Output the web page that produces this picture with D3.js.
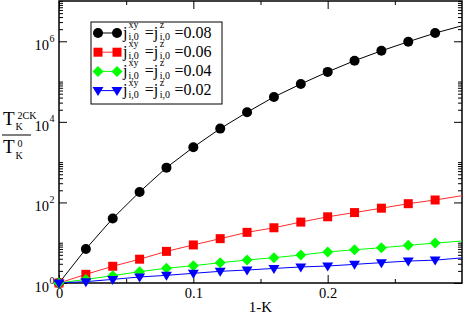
<!DOCTYPE html>
<html>
<head>
<meta charset="utf-8">
<script src="https://cdn.jsdelivr.net/npm/d3@7"></script>
<style>
  html, body { margin: 0; padding: 0; background: #fff; }
  svg { display: block; }
  text { font-family: "Liberation Serif", "Times New Roman", serif; fill: #000; }
</style>
</head>
<body>
<svg id="chart" width="463" height="315"></svg>
<script>
// ---- data ----
const xValues = [0, 0.02, 0.04, 0.06, 0.08, 0.10, 0.12, 0.14, 0.16, 0.18, 0.20, 0.22, 0.24, 0.26, 0.28, 0.30];
const black08 = [1, 7.0, 40, 182, 730, 2350, 6800, 17300, 41500, 87000, 174000, 330000, 580000, 975000, 1.6e6, 2.43e6];
const red06   = [1, 1.64, 2.6, 3.9, 6.1, 8.8, 12.6, 18.1, 23.5, 32.5, 44, 56, 72, 93, 115, 147];
const green04 = [1, 1.23, 1.52, 1.91, 2.32, 2.69, 3.19, 3.72, 4.25, 4.95, 5.9, 6.7, 7.5, 8.6, 9.8, 11];
const blue02  = [1, 1.08, 1.23, 1.41, 1.55, 1.74, 1.95, 2.1, 2.3, 2.5, 2.64, 2.9, 3.2, 3.5, 3.7, 4.2];
const legendValues = ["0.08", "0.06", "0.04", "0.02"];
const xTicks = [0, 0.1, 0.2];
const xMinorTicks = [0.05, 0.15, 0.25];
const yTickExponents = [0, 2, 4, 6];
const yMinorMultipliers = [2, 3, 4, 5, 6, 7, 8, 9, 10];

// ---- layout ----
const svg = d3.select("#chart");
const L = 59, R = 462, T = 1, B = 283;
const x = d3.scaleLinear().domain([0, 0.3]).range([L, R]);
const y = d3.scaleLog().domain([1, 1e7]).range([B, T]);

const yMajor = yTickExponents.map(e => Math.pow(10, e));
const yMinor = [];
yTickExponents.forEach(e => yMinorMultipliers.forEach(m => {
  const v = m * Math.pow(10, e);
  if (v <= 1e7) yMinor.push(v);
}));

// axes (ticks inside, mirrored)
function axisGroup(axis, tx, ty) {
  const g = svg.append("g").attr("transform", `translate(${tx},${ty})`).call(axis);
  g.select(".domain").remove();
  g.selectAll("line").attr("stroke", "#000").attr("stroke-width", 1);
  return g;
}
axisGroup(d3.axisLeft(y).tickValues(yMajor).tickSize(-8).tickFormat(""), L, 0);
axisGroup(d3.axisLeft(y).tickValues(yMinor).tickSize(-4).tickFormat(""), L, 0);
axisGroup(d3.axisRight(y).tickValues(yMajor).tickSize(-8).tickFormat(""), R, 0);
axisGroup(d3.axisRight(y).tickValues(yMinor).tickSize(-4).tickFormat(""), R, 0);
axisGroup(d3.axisTop(x).tickValues(xTicks).tickSize(-8).tickFormat(""), 0, T);
axisGroup(d3.axisTop(x).tickValues(xMinorTicks).tickSize(-4).tickFormat(""), 0, T);
const xb = axisGroup(d3.axisBottom(x).tickValues(xTicks).tickSize(-8).tickPadding(5)
  .tickFormat(d => d === 0 ? "0" : d3.format(".1f")(d)), 0, B);
xb.selectAll("text").attr("font-size", 14.5).attr("font-family", "Liberation Serif").attr("fill", "#000");
axisGroup(d3.axisBottom(x).tickValues(xMinorTicks).tickSize(-4).tickFormat(""), 0, B);

// y tick labels 10^n
yTickExponents.forEach(e => {
  const ty = y(Math.pow(10, e));
  const g = svg.append("g");
  const base = g.append("text").attr("x", 0).attr("y", ty + 9).attr("font-size", 14.5).text("10");
  const w = base.node().getComputedTextLength();
  g.append("text").attr("x", w + 0.5).attr("y", ty + 0.5).attr("font-size", 10).text(String(e));
  const bb = g.node().getBBox();
  g.attr("transform", `translate(${54.5 - (bb.x + bb.width)},0)`);
});

// frame
svg.append("rect").attr("x", L).attr("y", T).attr("width", R - L).attr("height", B - T)
  .attr("fill", "none").attr("stroke", "#000").attr("stroke-width", 1.5);

// clip for lines
svg.append("clipPath").attr("id", "clip").append("rect")
  .attr("x", L).attr("y", T).attr("width", R - L).attr("height", B - T);

const series = [
  { vals: black08, color: "#000000", lineColor: "#000000", sym: "circle" },
  { vals: red06,   color: "#ff0000", lineColor: "#ff2a2a", sym: "square" },
  { vals: green04, color: "#00ff00", lineColor: "#00ff00", sym: "diamond" },
  { vals: blue02,  color: "#0000ff", lineColor: "#0000ff", sym: "triangle" }
];

function drawSymbol(g, type, cx, cy, color) {
  if (type === "circle") {
    g.append("circle").attr("cx", cx).attr("cy", cy).attr("r", 5).attr("fill", color);
  } else if (type === "square") {
    g.append("rect").attr("x", cx - 4.5).attr("y", cy - 4.5).attr("width", 9).attr("height", 9).attr("fill", color);
  } else if (type === "diamond") {
    g.append("path").attr("d", `M${cx},${cy - 5.5}L${cx + 5.5},${cy}L${cx},${cy + 5.5}L${cx - 5.5},${cy}Z`).attr("fill", color);
  } else {
    g.append("path").attr("d", `M${cx - 5.5},${cy - 3.5}L${cx + 5.5},${cy - 3.5}L${cx},${cy + 5.5}Z`).attr("fill", color);
  }
}

const line = d3.line().x((d, i) => x(xValues[i])).y(d => y(d));
series.forEach(s => {
  svg.append("path").attr("d", line(s.vals)).attr("fill", "none")
    .attr("stroke", s.lineColor).attr("stroke-width", 1).attr("clip-path", "url(#clip)");
});
series.forEach(s => {
  const g = svg.append("g");
  s.vals.forEach((v, i) => {
    if (xValues[i] < 0.295) drawSymbol(g, s.sym, x(xValues[i]), y(v), s.color);
  });
});

// legend
const lg = svg.append("g");
lg.append("rect").attr("x", 91).attr("y", 22).attr("width", 131).attr("height", 82)
  .attr("fill", "#fff").attr("stroke", "#000").attr("stroke-width", 1);

function richText(g, x0, baseline, parts, size) {
  let cx = x0;
  parts.forEach(p => {
    if (typeof p === "string") {
      const t = g.append("text").attr("x", cx).attr("y", baseline).attr("font-size", size).text(p);
      cx += t.node().getComputedTextLength();
    } else {
      const ss = 10;
      let w = 0;
      if (p.sup) {
        const t = g.append("text").attr("x", cx + (p.pre || 0)).attr("y", baseline - 9.5).attr("font-size", ss).text(p.sup);
        w = Math.max(w, t.node().getComputedTextLength());
      }
      if (p.sub) {
        const t = g.append("text").attr("x", cx + (p.pre || 0)).attr("y", baseline + 2.6).attr("font-size", ss).text(p.sub);
        w = Math.max(w, t.node().getComputedTextLength());
      }
      cx += (p.pre || 0) + w + (p.gap || 0);
    }
  });
  return cx;
}

series.forEach((s, i) => {
  const cy = 33 + i * 19.2;
  lg.append("line").attr("x1", 98).attr("x2", 117).attr("y1", cy).attr("y2", cy)
    .attr("stroke", s.lineColor).attr("stroke-width", 1);
  drawSymbol(lg, s.sym, 98, cy, s.color);
  drawSymbol(lg, s.sym, 117, cy, s.color);
  richText(lg, 123, cy + 4.5, [
    "j", { sup: "xy", sub: "i,0", pre: 1, gap: 6 },
    "=j", { sup: "z", sub: "i,0", pre: 1.5, gap: 4.5 },
    "=" + legendValues[i]
  ], 16);
});

// y-axis title: T_K^{2CK} / T_K^0
const yt = svg.append("g");
yt.append("text").attr("x", 3).attr("y", 125).attr("font-size", 19).text("T");
yt.append("text").attr("x", 17.5).attr("y", 118.5).attr("font-size", 10).text("2CK");
yt.append("text").attr("x", 15.5).attr("y", 129.5).attr("font-size", 10).text("K");
yt.append("line").attr("x1", 2).attr("x2", 31).attr("y1", 135).attr("y2", 135)
  .attr("stroke", "#000").attr("stroke-width", 1);
yt.append("text").attr("x", 3).attr("y", 153).attr("font-size", 19).text("T");
yt.append("text").attr("x", 17.5).attr("y", 146.5).attr("font-size", 10).text("0");
yt.append("text").attr("x", 15.5).attr("y", 158.5).attr("font-size", 10).text("K");

// x-axis title
svg.append("text").attr("x", (L + R) / 2).attr("y", 312).attr("text-anchor", "middle")
  .attr("font-size", 15).text("1-K");
</script>
</body>
</html>
